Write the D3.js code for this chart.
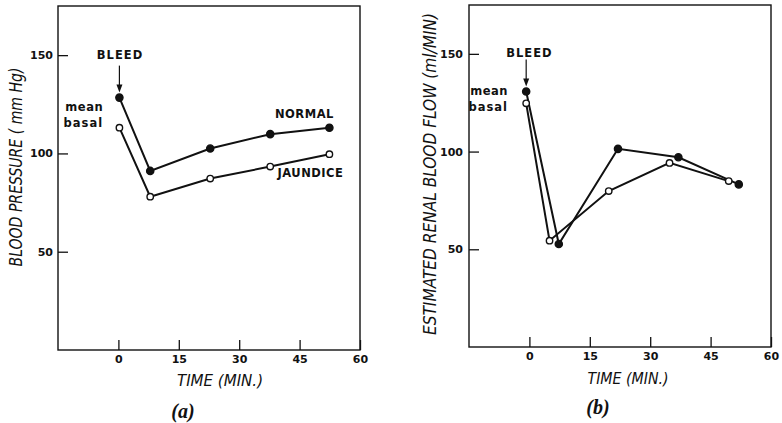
<!DOCTYPE html>
<html>
<head>
<meta charset="utf-8">
<script src="https://cdn.jsdelivr.net/npm/d3@7"></script>
<style>
  body { margin: 0; background: #fff; }
  svg { display: block; }
  .tick text { font-family: "DejaVu Sans", sans-serif; font-size: 11px; font-weight: bold; fill: #111; }
  .tick line { stroke: #111; stroke-width: 1.3; }
  .note { font-family: "DejaVu Sans", sans-serif; font-weight: bold; font-size: 11.5px; fill: #111; }
  .title { font-family: "DejaVu Sans Condensed", "DejaVu Sans", sans-serif; font-style: italic; font-size: 16px; fill: #111; }
  .panel { font-family: "Liberation Serif", serif; font-style: italic; font-weight: bold; font-size: 20px; fill: #111; }
</style>
</head>
<body>
<svg id="chart" width="782" height="423"></svg>
<script>
// time (min) and values
const bpTime = [0.25, 7.9, 22.8, 37.7, 52.4];
const bpNormal = [128.4, 91.1, 102.5, 109.8, 113.1];
const bpJaundice = [113.1, 78.0, 87.2, 93.3, 99.6];

const rbfNormalTime = [-0.8, 7.3, 22.0, 37.0, 52.0];
const rbfNormal = [130.7, 52.7, 101.4, 97.1, 83.2];
const rbfJaundiceTime = [-0.8, 5.0, 19.7, 34.8, 49.5];
const rbfJaundice = [124.7, 54.4, 79.8, 94.2, 84.9];

const xTicks = [0, 15, 30, 45, 60];
const yTicks = [50, 100, 150];

const svg = d3.select('#chart');

function drawPanel(cfg) {
    let x = d3.scaleLinear().domain([-15, 60]).range([cfg.left, cfg.right]);
    let y = d3.scaleLinear().domain([0, 175]).range([cfg.bottom, cfg.top]);
    let g = svg.append('g');

    // frame
    g.append('rect')
        .attr('x', cfg.left).attr('y', cfg.top)
        .attr('width', cfg.right - cfg.left).attr('height', cfg.bottom - cfg.top)
        .attr('fill', 'none').attr('stroke', '#111').attr('stroke-width', 1.4);

    let xAxis = d3.axisBottom(x).tickValues(xTicks).tickSizeInner(-10).tickSizeOuter(0).tickPadding(5);
    g.append('g').attr('transform', 'translate(0,' + cfg.bottom + ')').call(xAxis)
        .call(a => a.select('.domain').remove());

    let yAxis = d3.axisLeft(y).tickValues(yTicks).tickSizeInner(-10).tickSizeOuter(0).tickPadding(cfg.yPad);
    g.append('g').attr('transform', 'translate(' + cfg.left + ',0)').call(yAxis)
        .call(a => a.select('.domain').remove());

    let line = d3.line().x(d => x(d[0])).y(d => y(d[1]));

    cfg.series.forEach(s => {
        let pts = d3.zip(s.time, s.values);
        g.append('path')
            .datum(pts)
            .attr('d', line)
            .attr('fill', 'none')
            .attr('stroke', '#111')
            .attr('stroke-width', 2);
        g.selectAll(null)
            .data(pts)
            .enter()
            .append('circle')
            .attr('cx', d => x(d[0]))
            .attr('cy', d => y(d[1]))
            .attr('r', s.filled ? 3.6 : 3.2)
            .attr('fill', s.filled ? '#111' : '#fff')
            .attr('stroke', '#111')
            .attr('stroke-width', 1.4);
    });

    // bleed arrow over first filled point
    let first = cfg.series[0];
    let ax = x(first.time[0]);
    let ay = y(first.values[0]) - 5;
    g.append('line')
        .attr('x1', ax).attr('x2', ax)
        .attr('y1', ay - 27).attr('y2', ay - 5)
        .attr('stroke', '#111').attr('stroke-width', 1.2);
    g.append('path')
        .attr('d', 'M' + (ax - 3) + ',' + (ay - 8) + ' L' + ax + ',' + ay + ' L' + (ax + 3) + ',' + (ay - 8) + ' Z')
        .attr('fill', '#111');

    cfg.notes.forEach(n => {
        g.append('text')
            .attr('class', 'note')
            .attr('x', x(n.t)).attr('y', y(n.v))
            .attr('dy', '0.36em')
            .attr('text-anchor', n.anchor)
            .attr('letter-spacing', n.ls)
            .text(n.text);
    });

    g.append('text')
        .attr('class', 'title')
        .attr('x', cfg.xTitle[0]).attr('y', cfg.xTitle[1])
        .attr('dy', '0.36em')
        .attr('text-anchor', 'middle')
        .attr('textLength', cfg.xTitle[2])
        .attr('lengthAdjust', 'spacingAndGlyphs')
        .text('TIME (MIN.)');

    g.append('text')
        .attr('class', 'title')
        .attr('transform', 'translate(' + cfg.yTitle[0] + ',' + cfg.yTitle[1] + ') rotate(-90)')
        .attr('dy', '0.36em')
        .attr('text-anchor', 'middle')
        .attr('textLength', cfg.yTitle[2])
        .attr('lengthAdjust', 'spacingAndGlyphs')
        .style('font-size', '17.5px')
        .text(cfg.yLabel);

    g.append('text')
        .attr('class', 'panel')
        .attr('x', cfg.tag[0]).attr('y', cfg.tag[1])
        .attr('dy', '0.36em')
        .attr('text-anchor', 'middle')
        .text(cfg.tag[2]);
}

drawPanel({
    left: 58, right: 360, top: 6, bottom: 350, yPad: 5,
    series: [
        {time: bpTime, values: bpNormal, filled: true},
        {time: bpTime, values: bpJaundice, filled: false}
    ],
    notes: [
        {text: 'BLEED', t: 0.4, v: 150.1, anchor: 'middle', ls: 1},
        {text: 'mean', t: -3.8, v: 123.6, anchor: 'end', ls: 0.5},
        {text: 'basal', t: -3.8, v: 115.5, anchor: 'end', ls: 1},
        {text: 'NORMAL', t: 46.2, v: 120, anchor: 'middle', ls: 0.5},
        {text: 'JAUNDICE', t: 47.7, v: 90, anchor: 'middle', ls: 0.5}
    ],
    xTitle: [220, 380, 86],
    yTitle: [16, 167, 199],
    yLabel: 'BLOOD PRESSURE ( mm Hg)',
    tag: [183, 411, '(a)']
});

drawPanel({
    left: 469, right: 771, top: 5, bottom: 347, yPad: 6,
    series: [
        {time: rbfNormalTime, values: rbfNormal, filled: true},
        {time: rbfJaundiceTime, values: rbfJaundice, filled: false}
    ],
    notes: [
        {text: 'BLEED', t: 0, v: 150.5, anchor: 'middle', ls: 1},
        {text: 'mean', t: -5.3, v: 131, anchor: 'end', ls: 0.5},
        {text: 'basal', t: -5.3, v: 122.8, anchor: 'end', ls: 1}
    ],
    xTitle: [628, 378, 81],
    yTitle: [430, 174, 322],
    yLabel: 'ESTIMATED RENAL BLOOD FLOW (ml/MIN)',
    tag: [598, 407, '(b)']
});
</script>
</body>
</html>
